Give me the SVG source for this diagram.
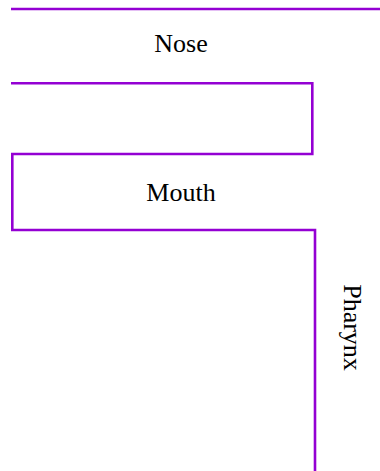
<svg xmlns="http://www.w3.org/2000/svg" width="380" height="471" viewBox="0 0 380 471">
<style>
.wall{fill:none;stroke:#9400D3;stroke-width:2.6}
.lbl{font-family:"Liberation Serif","Times New Roman",serif;font-size:26px;fill:#000;text-anchor:middle}
</style>
<rect width="380" height="471" fill="#fff"/>
<g id="connectors">
<path class="wall" d="M11,9 H380"/>
<path class="wall" d="M11,83.3 H312.3 V154 H12.3 V230 H315 V471"/>
</g>
<g id="nose"><text class="lbl" x="181" y="52">Nose</text></g>
<g id="mouth"><text class="lbl" x="181" y="201">Mouth</text></g>
<g id="pharynx"><text class="lbl" transform="translate(344,327.5) rotate(90)">Pharynx</text></g>
</svg>
